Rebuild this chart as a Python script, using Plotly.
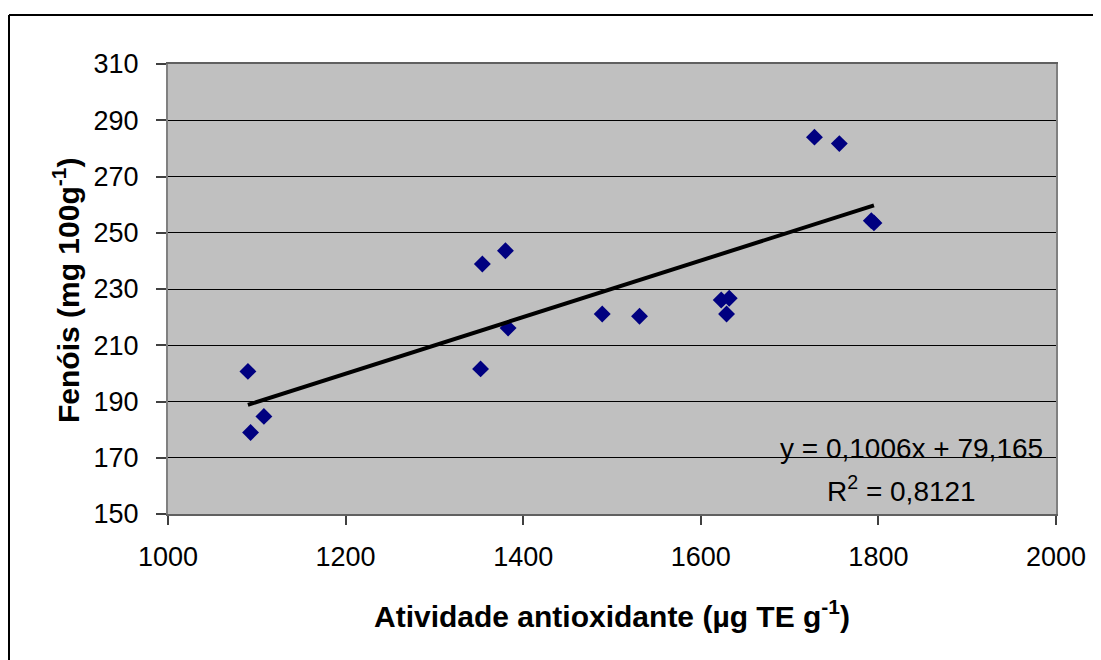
import plotly.graph_objects as go

# Data
atividade = [1090, 1108, 1093, 1354, 1380, 1383, 1352, 1489, 1531, 1623, 1632, 1629, 1728, 1756, 1792, 1795]
fenois = [200.7, 184.7, 179.0, 238.9, 243.6, 216.1, 201.6, 221.1, 220.3, 226.1, 226.7, 221.1, 284.0, 281.7, 254.3, 253.5]

# Trend line coefficients (as displayed)
slope = 0.1006
intercept = 79.165
trend_x = [min(atividade), max(atividade)]
trend_y = [slope * v + intercept for v in trend_x]

x_ticks = [1000, 1200, 1400, 1600, 1800, 2000]
y_ticks = [150, 170, 190, 210, 230, 250, 270, 290, 310]

FONT = "Liberation Sans, Arial, sans-serif"

# page offset (browser body margin)
OFF = 8
L, T, PW, PH = 168 - OFF, 64 - OFF, 888, 450
W, H = 1101, 660


def px(xp):
    return (xp - OFF - L) / PW


def py(yp):
    return (T + PH - (yp - OFF)) / PH


fig = go.Figure()
fig.add_trace(go.Scatter(
    x=atividade, y=fenois, mode="markers",
    marker=dict(symbol="diamond", size=13, color="#000080", line=dict(width=0)),
    showlegend=False,
))
fig.add_trace(go.Scatter(
    x=trend_x, y=trend_y, mode="lines",
    line=dict(color="black", width=4),
    showlegend=False,
))

fig.update_layout(
    width=W, height=H,
    margin=dict(l=L, r=W - L - PW, t=T, b=H - T - PH),
    paper_bgcolor="white",
    plot_bgcolor="#C0C0C0",
    font=dict(family=FONT, size=27, color="black"),
    showlegend=False,
)
fig.update_xaxes(
    range=[1000, 2000], tickvals=x_ticks, ticktext=[str(v) for v in x_ticks],
    showgrid=False, zeroline=False,
    ticks="outside", ticklen=9, tickcolor="#404040", tickwidth=1.5,
    showline=True, linecolor="#606060", linewidth=2, mirror=True,
    ticklabelstandoff=9,
    tickfont=dict(size=27, family=FONT),
)
fig.update_yaxes(
    range=[150, 310], tickvals=y_ticks, ticktext=[str(v) for v in y_ticks],
    showgrid=True, gridcolor="black", gridwidth=1.3, zeroline=False,
    ticks="outside", ticklen=10, tickcolor="#404040", tickwidth=1.5,
    showline=True, linecolor="#808080", linewidth=2, mirror=True,
    ticklabelstandoff=12,
    tickfont=dict(size=27, family=FONT),
)

fig.add_annotation(
    text="<b>Fenóis (mg 100g<sup>-1</sup>)</b>", textangle=-90,
    xref="paper", yref="paper", x=px(66), y=py(291),
    showarrow=False, font=dict(size=30, family=FONT),
    xanchor="center", yanchor="middle",
)
fig.add_annotation(
    text="<b>Atividade antioxidante (µg TE g<sup>-1</sup>)</b>",
    xref="paper", yref="paper", x=px(611.5), y=py(614),
    showarrow=False, font=dict(size=30, family=FONT),
    xanchor="center", yanchor="middle",
)
fig.add_annotation(
    text="y = 0,1006x + 79,165",
    xref="paper", yref="paper", x=px(1045), y=py(448),
    showarrow=False, font=dict(size=28, family=FONT),
    xanchor="right", yanchor="middle",
)
fig.add_annotation(
    text="R<sup>2</sup> = 0,8121",
    xref="paper", yref="paper", x=px(901), y=py(489),
    showarrow=False, font=dict(size=28, family=FONT),
    xanchor="center", yanchor="middle",
)

# Chart outer border (top and left visible)
fig.add_shape(type="line", xref="paper", yref="paper",
              x0=px(9), x1=px(1110), y0=py(15), y1=py(15),
              line=dict(color="black", width=2))
fig.add_shape(type="line", xref="paper", yref="paper",
              x0=px(9), x1=px(9), y0=py(15), y1=py(670),
              line=dict(color="black", width=2))

fig.write_html("out.html")
